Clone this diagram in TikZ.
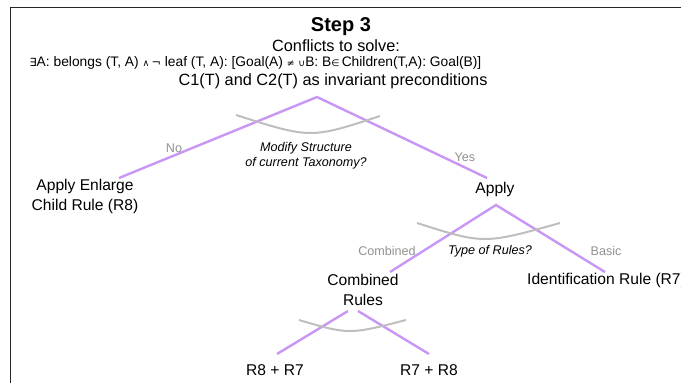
\documentclass[tikz,border=0pt]{standalone}
\usepackage{fontspec}
\setmainfont{Liberation Sans}
\newfontfamily\symf{DejaVu Sans}
\definecolor{branch}{RGB}{200,150,245}
\definecolor{arcgray}{RGB}{190,190,190}
\definecolor{lblgray}{RGB}{145,145,145}
\begin{document}
\begin{tikzpicture}[x=1pt,y=-1pt,
  txt/.style={inner sep=0pt,font=\fontsize{15.6}{20}\selectfont,align=center},
  head/.style={inner sep=0pt,font=\fontsize{16.3}{18}\selectfont,align=center},
  quest/.style={inner sep=0pt,font=\fontsize{12.6}{15}\selectfont\itshape,align=center},
  ans/.style={inner sep=0pt,font=\fontsize{12.6}{15}\selectfont,text=lblgray},
  edge/.style={draw=branch,line width=2.4pt},
  decarc/.style={draw=arcgray,line width=2pt}]
\useasboundingbox (0,0) rectangle (681,383);
\draw[line width=1.5pt,black!85] (10.5,383) -- (10.5,7.5) -- (681,7.5);
% header
\node[inner sep=0pt,font=\fontsize{20}{24}\selectfont\bfseries] (step) at (341,27) {Step 3};
\node[head] (conf) at (336,46) {Conflicts to solve:};
\node[inner sep=0pt,font=\fontsize{13.8}{18}\selectfont] (exists) at (255.5,63) {{\symf\fontsize{11.2}{18}\selectfont ∃}A: belongs (T, A) {\symf\fontsize{9.3}{18}\selectfont ∧}\,{\symf\fontsize{11.2}{18}\selectfont ¬} leaf (T, A): [Goal(A) {\symf\fontsize{9.3}{18}\selectfont ≠} {\symf\fontsize{9.3}{18}\selectfont ∪}B: B{\symf\fontsize{9.3}{18}\selectfont ∈}\,Children(T,A): Goal(B)]};
\node[head] (inv) at (333,81) {C1(T) and C2(T) as invariant preconditions};
% level 1
\coordinate (a1) at (317,97);
\coordinate (noend) at (119,178);
\coordinate (yesend) at (487,178);
\draw[edge] (noend) -- (a1) -- (yesend);
\draw[decarc] (236,115) .. controls (310.7,138.8) .. (380,116);
\node[quest] (q1) at (306,155.5) {Modify Structure\\of current Taxonomy?};
\node[ans] (no) at (174,148) {No};
\node[ans] (yes) at (465,157) {Yes};
\node[txt] (enlarge) at (85,196) {Apply Enlarge\\Child Rule (R8)};
\node[txt] (apply) at (495,189) {Apply};
% level 2
\coordinate (a2) at (496,205);
\coordinate (combend) at (390,272);
\coordinate (basicend) at (605,272);
\draw[edge] (combend) -- (a2) -- (basicend);
\draw[decarc] (417,223) .. controls (483.8,244.3) .. (560,223);
\node[quest] (q2) at (490,251) {Type of Rules?};
\node[ans] (comb) at (387,251) {Combined};
\node[ans] (basic) at (606,251) {Basic};
\node[txt] (combined) at (363,290) {Combined\\Rules};
\node[txt,anchor=west] (ident) at (527,280) {Identification Rule (R7)};
% level 3
\coordinate (a3l) at (348,311);
\coordinate (a3r) at (358,311);
\coordinate (r87end) at (277,354);
\coordinate (r78end) at (429,354);
\draw[edge] (a3l) -- (r87end);
\draw[edge] (a3r) -- (r78end);
\draw[decarc] (299,320) .. controls (349.2,334.7) .. (406,320);
\node[txt] (r87) at (275,370) {R8 + R7};
\node[txt] (r78) at (429,370) {R7 + R8};
\end{tikzpicture}
\end{document}
